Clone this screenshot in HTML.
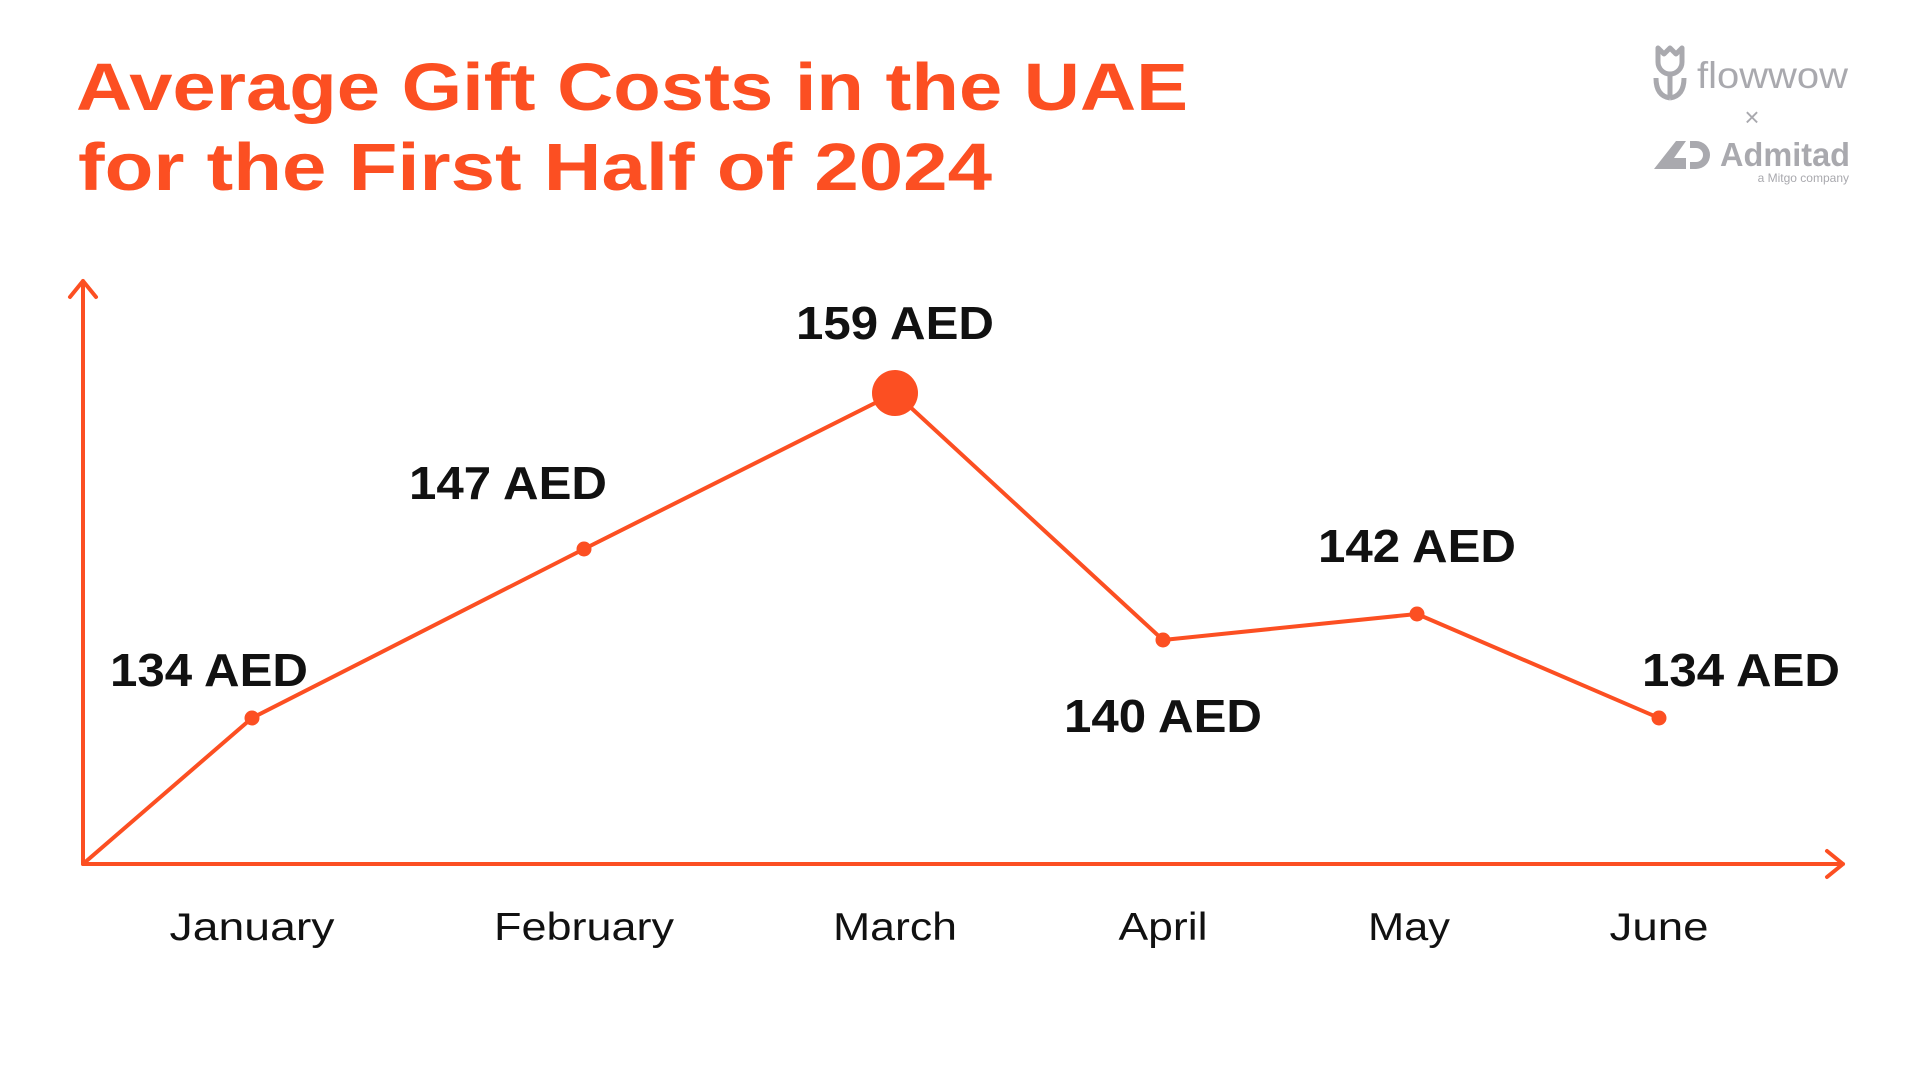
<!DOCTYPE html>
<html><head><meta charset="utf-8"><style>
html,body{margin:0;padding:0;background:#fff;}
svg{display:block;}
text{font-family:"Liberation Sans",sans-serif;}
</style></head><body>
<svg id="chart" width="1920" height="1080" viewBox="0 0 1920 1080">
  <g fill="#FC4F22" font-weight="bold" font-size="67">
    <text x="76" y="110" textLength="1112" lengthAdjust="spacingAndGlyphs">Average Gift Costs in the UAE</text>
    <text x="78" y="190" textLength="914" lengthAdjust="spacingAndGlyphs">for the First Half of 2024</text>
  </g>
  <g fill="#a9a9ae">
    <g fill="none" stroke="#a9a9ae" stroke-width="5" stroke-linejoin="round">
      <path d="M1658 48 l6 6 l6 -6 l6 6 l6 -6 v14 a12 12 0 0 1 -24 0 z"/>
      <path d="M1670 74 v24 M1656 78 q0 18 14 20 M1684 78 q0 18 -14 20"/>
    </g>
    <text x="1697" y="88" font-size="37" textLength="151" lengthAdjust="spacingAndGlyphs">flowwow</text>
    <text x="1752" y="126" font-size="26" text-anchor="middle">×</text>
    <path d="M1654 169 l22 -28 h10 l-12 17 h12 v11 z M1690 141 h6 a14 14 0 0 1 0 28 h-6 v-7 h6 a7 7 0 0 0 0 -14 h-6 z"/>
    <text x="1720" y="166" font-size="33" font-weight="bold" textLength="130" lengthAdjust="spacingAndGlyphs">Admitad</text>
    <text x="1849" y="182" font-size="12" text-anchor="end">a Mitgo company</text>
  </g>
  <g id="axes" stroke="#FC4F22" stroke-width="4" fill="none" stroke-linecap="round" stroke-linejoin="round">
    <path d="M83 864 V281 M70 297 L83 281 L96 297"/>
    <path d="M83 864 H1843 M1827 851 L1843 864 L1827 877"/>
  </g>
  <g id="plot"></g>
</svg>
<script>
const months = ["January","February","March","April","May","June"];
const values = [134, 147, 159, 140, 142, 134];
const valueLabels = ["134 AED","147 AED","159 AED","140 AED","142 AED","134 AED"];

const NS = "http://www.w3.org/2000/svg";
const xPos = [252, 584, 895, 1163, 1417, 1659]; // category band centers
function xScale(i){ return xPos[i]; }
function yScale(v){ return 718 - (v - 134) * 13.0; }
const labelOff = [[-43,-32],[-76,-50],[0,-54],[0,92],[0,-52],[82,-32]];
const monthWidths = [165,180,124,89,82,99];
const monthShift = [0,0,0,0,-8,0];
const plot = document.getElementById('plot');
let d = "M83 864";
values.forEach((v,i)=>{ d += " L" + xScale(i) + " " + yScale(v); });
const line = document.createElementNS(NS,'path');
line.setAttribute('d', d);
line.setAttribute('fill','none');
line.setAttribute('stroke','#FC4F22');
line.setAttribute('stroke-width','4');
line.setAttribute('stroke-linejoin','round');


plot.appendChild(line);
const maxV = Math.max(...values);
values.forEach((v,i)=>{
  const c = document.createElementNS(NS,'circle');
  c.setAttribute('cx', xScale(i));
  c.setAttribute('cy', yScale(v));
  c.setAttribute('r', v === maxV ? 23 : 7.5);
  c.setAttribute('fill','#FC4F22');
  
  
  plot.appendChild(c);
  const t = document.createElementNS(NS,'text');
  t.setAttribute('x', xScale(i) + labelOff[i][0]);
  t.setAttribute('y', yScale(v) + labelOff[i][1]);
  t.setAttribute('text-anchor','middle');
  t.setAttribute('font-size','46');
  t.setAttribute('font-weight','bold');
  t.setAttribute('fill','#111');
  t.setAttribute('textLength', 198);
  t.setAttribute('lengthAdjust','spacingAndGlyphs');
  t.textContent = valueLabels[i];
  
  
  plot.appendChild(t);
  const m = document.createElementNS(NS,'text');
  m.setAttribute('x', xScale(i) + monthShift[i]);
  m.setAttribute('y', 940);
  m.setAttribute('text-anchor','middle');
  m.setAttribute('font-size','39');
  m.setAttribute('fill','#111');
  m.setAttribute('textLength', monthWidths[i]);
  m.setAttribute('lengthAdjust','spacingAndGlyphs');
  m.textContent = months[i];
  
  
  plot.appendChild(m);
});
</script>
</body></html>
